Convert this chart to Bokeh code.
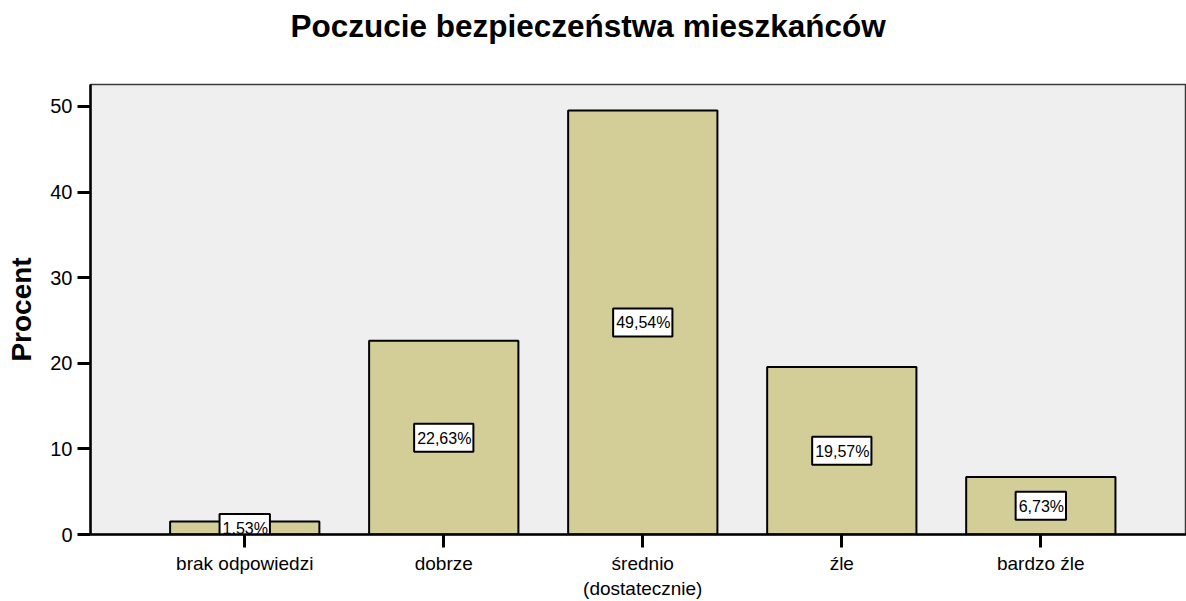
from bokeh.plotting import figure
from bokeh.models import Range1d, FixedTicker, ColumnDataSource, Title
from bokeh.core.properties import value
from bokeh.embed import file_html
from bokeh.resources import INLINE

title_text = "Poczucie bezpieczeństwa mieszkańców"
categories = ["brak odpowiedzi", "dobrze", "średnio\n(dostatecznie)", "źle", "bardzo źle"]
percents = [1.53, 22.63, 49.54, 19.57, 6.73]
labels = ["1,53%", "22,63%", "49,54%", "19,57%", "6,73%"]
y_ticks = [0, 10, 20, 30, 40, 50]

FONT = "Liberation Sans"

xs = list(range(len(categories)))
src = ColumnDataSource(dict(x=xs, top=percents,
                            mid=[v / 2 for v in percents], label=labels))

p = figure(width=1186, height=601, output_backend="svg", toolbar_location=None,
           x_range=Range1d(-0.775, 4.732), y_range=Range1d(0, 52.57),
           min_border_left=90, min_border_right=0, min_border_top=84,
           min_border_bottom=67)

p.background_fill_color = "#EFEFEF"
p.border_fill_color = "white"
p.outline_line_color = "#3c3c3c"
p.outline_line_width = 1.5
p.title.text = ""

# spacer between frame and title (closest to the frame), then the title itself
p.add_layout(Title(text=" ", text_font_size="10px", standoff=28), "above")
p.add_layout(Title(text=title_text, align="left", offset=200, standoff=0,
                   text_font=FONT, text_font_size="31.5px", text_font_style="bold",
                   text_color="black"), "above")

p.xgrid.visible = False
p.ygrid.visible = False

for ax in (p.xaxis[0], p.yaxis[0]):
    ax.axis_line_width = 2.5
    ax.axis_line_color = "black"
    ax.major_tick_in = 0
    ax.major_tick_out = 13
    ax.major_tick_line_width = 3
    ax.major_tick_line_color = "black"
    ax.minor_tick_line_color = None
    ax.major_label_text_font = FONT
    ax.major_label_text_font_size = "20px"
    ax.major_label_text_color = "black"

p.yaxis.ticker = FixedTicker(ticks=y_ticks, minor_ticks=[])
p.yaxis.major_label_standoff = 5
p.yaxis.axis_label = "Procent"
p.yaxis.axis_label_text_font = FONT
p.yaxis.axis_label_text_font_size = "28px"
p.yaxis.axis_label_text_font_style = "bold"
p.yaxis.axis_label_text_color = "black"
p.yaxis.axis_label_standoff = 10

p.xaxis.ticker = FixedTicker(ticks=xs, minor_ticks=[])
p.xaxis.major_label_overrides = {i: c for i, c in zip(xs, categories)}
p.xaxis.major_label_text_font_size = "19px"
p.xaxis.major_label_standoff = 5

p.vbar(x="x", top="top", bottom=0, width=0.75, fill_color="#D3CE97",
       line_color="black", line_width=2, source=src)

p.text(x="x", y="mid", text="label", text_align="center", text_baseline="middle",
       text_font=value(FONT), text_font_size="16px", text_color="black",
       background_fill_color="white", border_line_color="black",
       border_line_width=2, padding=dict(left=3, right=2, top=6, bottom=5),
       source=src)

open("out.html", "w").write(file_html(p, INLINE))
